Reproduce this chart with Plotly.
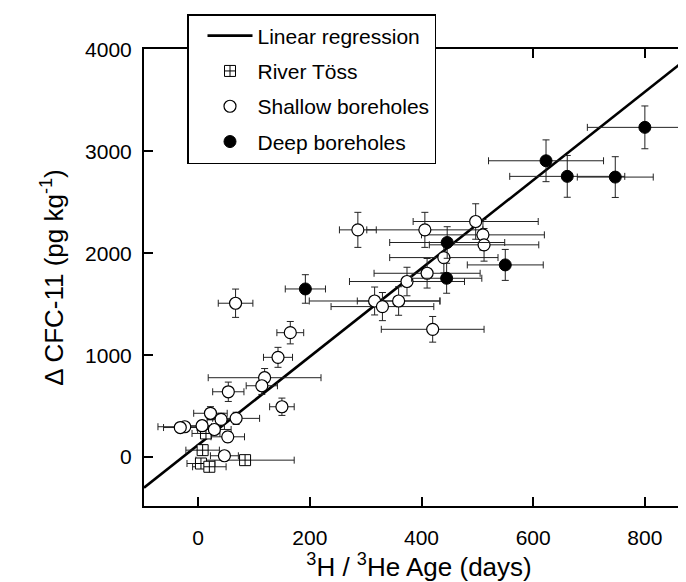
import plotly.graph_objects as go

# ---- data ----
deep_x = [192, 446, 445, 550, 623, 661, 747, 800]
deep_y = [1650, 2106, 1755, 1886, 2908, 2755, 2748, 3236]
deep_xerr = [36, 103, 63, 68, 103, 103, 68, 103]
deep_yerr = [140, 155, 147, 152, 205, 205, 200, 210]

sh_x = [286, 406, 497, 510, 512, 440, 410, 374, 316, 330, 359, 420, 165, 67,
        143, 119, 114, 54, 150, 22, 41, 68, -24, -32, 7, 29, 53, 47]
sh_y = [2230, 2230, 2312, 2181, 2083, 1958, 1804, 1723, 1532, 1477, 1532, 1254,
        1221, 1510, 979, 779, 700, 641, 494, 430, 370, 380, 298, 290, 308, 271, 199, 13]
sh_xerr = [33, 104, 112, 110, 98, 97, 95, 103, 117, 92, 74, 92, 24, 31,
           26, 101, 28, 28, 22, 30, 25, 42, 48, 30, 40, 30, 30, 25]
sh_yerr = [172, 172, 174, 150, 160, 150, 145, 140, 137, 138, 140, 126, 110, 139,
           98, 90, 85, 95, 85, 65, 60, 60, 40, 40, 50, 50, 50, 40]

rv_x = [14, 8, 5, 20, 84]
rv_y = [232, 68, -63, -95, -30]
rv_xerr = [25, 30, 25, 30, 88]
rv_yerr = [40, 50, 40, 40, 40]

reg_slope = 4.33
reg_intercept = 120
x_range = [-97, 888]
y_range = [-480, 4005]
x_ticks = [0, 200, 400, 600, 800]
y_ticks = [0, 1000, 2000, 3000, 4000]

FONT = "Liberation Sans, Arial, Helvetica, sans-serif"

fig = go.Figure()

reg_x = [x_range[0], x_range[1]]
reg_y = [reg_intercept + reg_slope * v for v in reg_x]
fig.add_trace(go.Scatter(
    x=reg_x, y=reg_y, mode="lines", name="Linear regression",
    line=dict(color="black", width=2.6), legendgroup="a"))


def err(arr):
    return dict(type="data", array=arr, visible=True, color="#222222",
                thickness=1, width=3.5)


fig.add_trace(go.Scatter(
    x=rv_x, y=rv_y, mode="markers", name="River Töss", legendgroup="b",
    error_x=err(rv_xerr), error_y=err(rv_yerr),
    marker=dict(symbol="square-cross", size=11, color="white",
                line=dict(color="black", width=1))))

fig.add_trace(go.Scatter(
    x=sh_x, y=sh_y, mode="markers", name="Shallow boreholes", legendgroup="c",
    error_x=err(sh_xerr), error_y=err(sh_yerr),
    marker=dict(symbol="circle", size=12, color="white",
                line=dict(color="black", width=1.2))))

fig.add_trace(go.Scatter(
    x=deep_x, y=deep_y, mode="markers", name="Deep boreholes", legendgroup="d",
    error_x=err(deep_xerr), error_y=err(deep_yerr),
    marker=dict(symbol="circle", size=12, color="black",
                line=dict(color="black", width=1))))

# invisible trace for right-hand ticks
fig.add_trace(go.Scatter(x=[None], y=[None], yaxis="y2", showlegend=False,
                         hoverinfo="skip"))

fig.update_layout(
    width=686, height=582,
    margin=dict(l=136, r=0, t=41, b=84),
    paper_bgcolor="white", plot_bgcolor="white",
    font=dict(family=FONT, size=21, color="black"),
    showlegend=True,
    legend=dict(x=(179 - 136) / 550, y=(498 - 6) / 457, xanchor="left", yanchor="top",
                bgcolor="white", bordercolor="black", borderwidth=1.5,
                font=dict(family=FONT, size=21, color="black"),
                tracegroupgap=5, traceorder="grouped",
                indentation=14, itemwidth=45),
    xaxis=dict(range=x_range, tickvals=x_ticks, ticks="inside", ticklen=9,
               tickwidth=1.5, tickcolor="black", showline=True, linewidth=2,
               linecolor="black", mirror="ticks", showgrid=False, zeroline=False,
               tickfont=dict(size=21), ticklabelstandoff=12,
               title=dict(text="<sup>3</sup>H / <sup>3</sup>He Age (days)",
                          font=dict(size=26), standoff=6)),
    yaxis=dict(range=y_range, tickvals=y_ticks, ticks="inside", ticklen=9,
               tickwidth=1.5, tickcolor="black", showline=True, linewidth=2,
               linecolor="black", mirror=False, showgrid=False, zeroline=False,
               tickfont=dict(size=21), ticklabelstandoff=6,
               title=dict(text="Δ CFC-11 (pg kg<sup>-1</sup>)",
                          font=dict(size=26), standoff=14)),
    yaxis2=dict(range=y_range, tickvals=y_ticks, overlaying="y", side="right",
                ticks="inside", ticklen=6, tickwidth=1.5, tickcolor="black",
                showticklabels=False, showline=False, showgrid=False,
                zeroline=False),
)

fig.write_html("out.html")
